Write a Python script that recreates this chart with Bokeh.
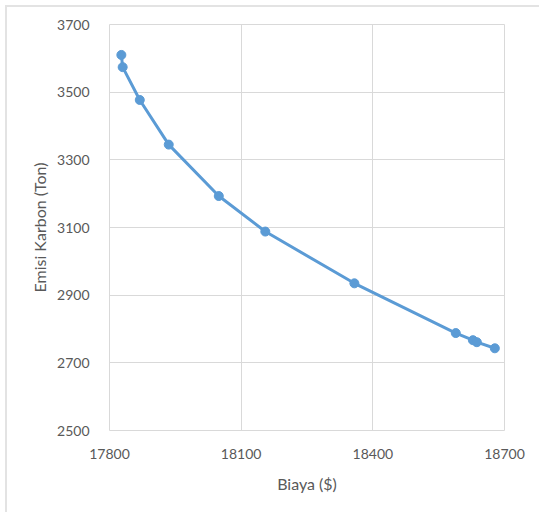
from bokeh.plotting import figure
from bokeh.models import Range1d, FixedTicker, ColumnDataSource
from bokeh.embed import file_html
from bokeh.resources import INLINE

# Cost (USD) vs. carbon emissions (tonnes) trade-off points
biaya = [17827, 17830, 17869, 17935, 18049, 18155, 18358, 18589, 18628, 18637, 18678]
emisi = [3610, 3574, 3477, 3345, 3193, 3088, 2935, 2788, 2767, 2761, 2743]

x_ticks = [17800, 18100, 18400, 18700]
y_ticks = [2500, 2700, 2900, 3100, 3300, 3500, 3700]

BLUE = "#5B9BD5"
GRID = "#d9d9d9"
TEXT = "#595959"
FONT = "Lato"

src = ColumnDataSource(data=dict(x=biaya, y=emisi))

p = figure(
    width=534, height=507,
    x_range=Range1d(17800, 18700), y_range=Range1d(2500, 3700),
    output_backend="svg", toolbar_location=None,
    min_border_left=102, min_border_right=37,
    min_border_top=17, min_border_bottom=84,
)
p.margin = (5, 0, 0, 5)
p.styles = {"border-top": "2px solid #e3e3e3", "border-left": "2px solid #e3e3e3"}

p.background_fill_color = "white"
p.border_fill_color = "white"
p.outline_line_color = GRID
p.outline_line_width = 1

p.xaxis.ticker = FixedTicker(ticks=x_ticks)
p.yaxis.ticker = FixedTicker(ticks=y_ticks)
p.xgrid.ticker = FixedTicker(ticks=x_ticks)
p.ygrid.ticker = FixedTicker(ticks=y_ticks)
p.grid.grid_line_color = GRID
p.grid.grid_line_width = 1

for ax in (p.xaxis, p.yaxis):
    ax.axis_line_color = None
    ax.major_tick_line_color = None
    ax.minor_tick_line_color = None
    ax.major_label_text_font = FONT
    ax.major_label_text_font_size = "14px"
    ax.major_label_text_color = TEXT
    ax.axis_label_text_font = FONT
    ax.axis_label_text_font_size = "16px"
    ax.axis_label_text_font_style = "normal"
    ax.axis_label_text_color = TEXT

p.xaxis.axis_label = "Biaya ($)"
p.yaxis.axis_label = "Emisi Karbon (Ton)"
p.xaxis.major_label_standoff = 12
p.yaxis.major_label_standoff = 14
p.xaxis.axis_label_standoff = 12
p.yaxis.axis_label_standoff = 5

p.line("x", "y", source=src, line_color=BLUE, line_width=3)
p.scatter("x", "y", source=src, size=9, fill_color=BLUE, line_color=BLUE)

open("out.html", "w").write(file_html(p, INLINE))
